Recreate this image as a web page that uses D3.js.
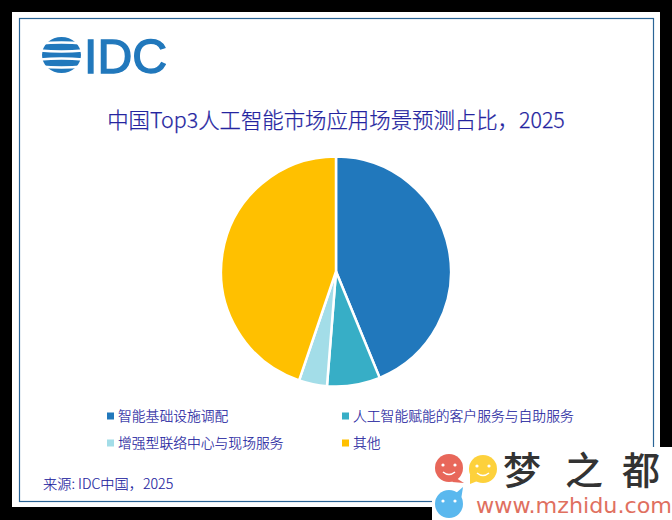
<!DOCTYPE html>
<html>
<head>
<meta charset="utf-8">
<script src="https://cdn.jsdelivr.net/npm/d3@7"></script>
<style>
  html, body { margin: 0; padding: 0; background: #000; overflow: hidden; }
  text { font-family: "Noto Sans CJK SC", "Noto Sans", sans-serif; }
</style>
</head>
<body>
<svg id="chart" width="672" height="520"></svg>
<script>
const categories = ['智能基础设施调配', '人工智能赋能的客户服务与自助服务', '增强型联络中心与现场服务', '其他'];
const shareValues = [43.8, 7.45, 3.95, 44.8];
const sliceColors = ['#2178bc', '#37aec6', '#a3dde8', '#ffc000'];
const titleText = '中国Top3人工智能市场应用场景预测占比，2025';
const sourceText = '来源: IDC中国，2025';

const textColor = '#2424a0';
const svg = d3.select('#chart');

// page card
svg.append('rect').attr('x', 12).attr('y', 12).attr('width', 648).attr('height', 495).attr('fill', '#fff');
svg.append('rect').attr('x', 19.5).attr('y', 18.5).attr('width', 634).attr('height', 483)
  .attr('fill', 'none').attr('stroke', '#2a6496').attr('stroke-width', 1.2);

// logo: striped globe + letters
svg.append('ellipse').attr('cx', 61.5).attr('cy', 55).attr('rx', 19.5).attr('ry', 18).attr('fill', '#2178bc');
const gapY = [43.5, 50.5, 59.5, 66.5];
const gapBend = [-2, 2, -2, 2];
svg.append('g').selectAll('path').data(gapY).join('path')
  .attr('d', (d, i) => `M40,${d}Q61.5,${d + gapBend[i]} 83,${d}`)
  .attr('fill', 'none').attr('stroke', '#fff').attr('stroke-width', 2.4);
svg.append('text').attr('x', 84).attr('y', 73)
  .attr('textLength', 83).attr('lengthAdjust', 'spacingAndGlyphs')
  .style('font-family', '"Liberation Sans", sans-serif')
  .attr('font-size', 49).attr('fill', '#2178bc')
  .attr('stroke', '#2178bc').attr('stroke-width', 1.4).text('IDC');

// title
svg.append('text').attr('x', 336).attr('y', 127.5).attr('text-anchor', 'middle')
  .attr('font-size', 21.4).attr('font-weight', 300).attr('fill', textColor)
  .attr('stroke', textColor).attr('stroke-width', 0.25).text(titleText);

// pie
const pie = d3.pie().sort(null).value(d => d);
const arc = d3.arc().innerRadius(0).outerRadius(115);
svg.append('g').attr('transform', 'translate(336,271.5)')
  .selectAll('path').data(pie(shareValues)).join('path')
  .attr('d', arc)
  .attr('fill', (d, i) => sliceColors[i])
  .attr('stroke', '#fff').attr('stroke-width', 2.5);

// legend, two columns
const legendCol = d3.scaleOrdinal().domain([0, 1]).range([107, 342]);
const legendRow = d3.scaleOrdinal().domain([0, 1]).range([416, 443]);
const legend = svg.append('g').selectAll('g').data(categories).join('g')
  .attr('transform', (d, i) => `translate(${legendCol(i % 2)},${legendRow(Math.floor(i / 2))})`);
legend.append('rect').attr('x', 0).attr('y', -3.5).attr('width', 7).attr('height', 7)
  .attr('fill', (d, i) => sliceColors[i]);
legend.append('text').attr('x', 11).attr('y', 5)
  .attr('font-size', 13.8).attr('font-weight', 300).attr('fill', textColor)
  .attr('stroke', textColor).attr('stroke-width', 0.15).text(d => d);

// source
svg.append('text').attr('x', 43).attr('y', 489)
  .attr('font-size', 14.2).attr('font-weight', 300).attr('fill', textColor)
  .attr('stroke', textColor).attr('stroke-width', 0.15).text(sourceText);

// watermark in the corner
const mark = svg.append('g');
mark.append('rect').attr('x', 432).attr('y', 447).attr('width', 240).attr('height', 73).attr('fill', '#fff');
mark.append('circle').attr('cx', 449).attr('cy', 468).attr('r', 14).attr('fill', '#e8675a');
mark.append('circle').attr('cx', 483).attr('cy', 469).attr('r', 14).attr('fill', '#fdd13c');
mark.append('circle').attr('cx', 449).attr('cy', 504).attr('r', 14).attr('fill', '#5ab8ee');
mark.append('path').attr('d', 'M456,478L464,483L452,482Z').attr('fill', '#e8675a');
mark.append('path').attr('d', 'M470,474L470,484L480,480Z').attr('fill', '#fdd13c');
mark.append('path').attr('d', 'M456,493L463,487L461,500Z').attr('fill', '#5ab8ee');
const faces = [[449, 468], [483, 469], [449, 504]];
mark.selectAll('circle.eye').data(faces.flatMap(f => [[f[0] - 6, f[1] - 3], [f[0] + 6, f[1] - 3]])).join('circle')
  .attr('class', 'eye').attr('cx', d => d[0]).attr('cy', d => d[1]).attr('r', 1.6).attr('fill', '#fff');
mark.selectAll('path.smile').data(faces.slice(0, 2)).join('path')
  .attr('class', 'smile').attr('fill', 'none').attr('stroke', '#fff').attr('stroke-width', 1.5)
  .attr('d', d => `M${d[0] - 6},${d[1] + 4}Q${d[0]},${d[1] + 9} ${d[0] + 6},${d[1] + 4}`);
mark.append('text').attr('x', 503).attr('y', 484).attr('font-size', 38).attr('font-weight', 500)
  .attr('fill', '#333').text('梦');
mark.append('text').attr('x', 565).attr('y', 484).attr('font-size', 38).attr('font-weight', 500)
  .attr('fill', '#333').text('之');
mark.append('text').attr('x', 622).attr('y', 484).attr('font-size', 38).attr('font-weight', 500)
  .attr('fill', '#333').text('都');
mark.append('text').attr('x', 476).attr('y', 513).attr('font-size', 21)
  .attr('textLength', 196).attr('lengthAdjust', 'spacingAndGlyphs')
  .style('font-family', '"DejaVu Sans", sans-serif')
  .attr('fill', '#e0705f').text('www.mzhidu.com');
</script>
</body>
</html>
